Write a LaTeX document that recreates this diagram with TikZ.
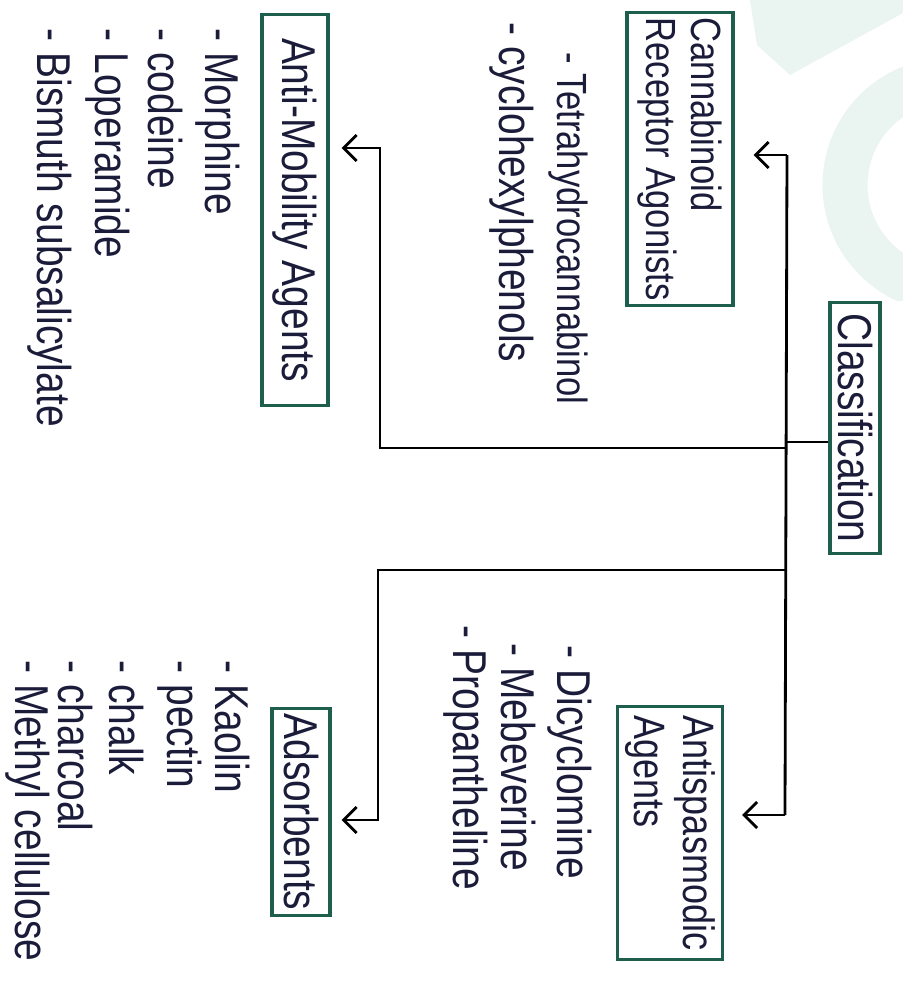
\documentclass[tikz,border=0pt]{standalone}
\usepackage{fontspec}
\setmainfont[FakeStretch=0.82]{Liberation Sans}
\usetikzlibrary{arrows.meta,calc}
\definecolor{ink}{HTML}{1B1B3A}
\definecolor{boxgreen}{HTML}{1E5E4C}
\definecolor{wmark}{HTML}{EAF4F1}

\tikzset{
  catbox/.style={draw=boxgreen, line width=0.9pt, rotate=-90, text=ink,
    align=left, inner sep=1.5pt, font=\fontsize{12}{13}\selectfont},
  bigtext/.style={font=\fontsize{13.5}{15}\selectfont},
  item/.style={rotate=-90, anchor=west, text=ink, inner sep=0pt,
    font=\fontsize{13.5}{15}\selectfont},
  link/.style={draw=black, line width=0.8pt},
  tip/.style={-{Straight Barb[length=1.3mm,width=2.6mm]}}
}

\begin{document}
\begin{tikzpicture}[x=0.01cm,y=-0.01cm]
	\useasboundingbox (0,0) rectangle (903,999);
	% faint mark of the paper
	\begin{scope}
	  \clip (700,0) rectangle (903,300);
	  \draw[wmark, line width=0.45cm] (950,185) circle (105);
	  \fill[wmark] (750,0) -- (903,0) -- (903,13) -- (790,75) -- (757,45) -- cycle;
	\end{scope}

	% categories
	\node[catbox, bigtext, minimum width=2.51cm, minimum height=0.5cm] (class) at (855,428) {Classification};
	\node[catbox, minimum width=2.82cm, minimum height=1.06cm] (canna) at (680,159) {Cannabinoid\\Receptor Agonists};
	\node[catbox, bigtext, minimum width=3.9cm, minimum height=0.66cm] (mobility) at (295,210) {Anti-Mobility Agents};
	\node[catbox, font=\fontsize{12.5}{14}\selectfont, minimum width=2.53cm, minimum height=1.05cm] (spasm) at (670,833) {Antispasmodic\\Agents};
	\node[catbox, bigtext, minimum width=2.0cm, minimum height=0.58cm] (adsorb) at (301,812) {Adsorbents};

	% drugs
	\node[item, font=\fontsize{12}{13}\selectfont] (thc) at (568,52) {- Tetrahydrocannabinol};
	\node[item] (cyclo) at (512,22) {- cyclohexylphenols};
	\node[item] (morph) at (218,28) {- Morphine};
	\node[item] (codeine) at (165,28) {- codeine};
	\node[item] (lope) at (108,28) {- Loperamide};
	\node[item] (bism) at (50,28) {- Bismuth subsalicylate};
	\node[item] (dicyc) at (570,645) {- Dicyclomine};
	\node[item] (mebev) at (518,643) {- Mebeverine};
	\node[item] (propan) at (466,625) {- Propantheline};
	\node[item] (kaolin) at (232,660) {- Kaolin};
	\node[item] (pectin) at (180,660) {- pectin};
	\node[item] (chalk) at (126,660) {- chalk};
	\node[item] (charcoal) at (75,660) {- charcoal};
	\node[item] (methyl) at (28,660) {- Methyl cellulose};

	% connectors
	\coordinate (hub) at (787,442);
	\coordinate (trunktop) at (787,155);
	\coordinate (trunkbot) at (785,815);
	\coordinate (mobjoin) at (380,448);
	\coordinate (mobturn) at (380,148);
	\coordinate (adsjoin) at (378,570);
	\coordinate (adsturn) at (378,820);

	\draw[link] (class.south |- hub) -- (hub);
	\draw[link] (trunktop) -- (trunkbot);
	\draw[link, tip, shorten >=0.19cm] (trunktop) -- (trunktop -| canna.north);
	\draw[link, tip, shorten >=0.18cm] (trunkbot) -- (trunkbot -| spasm.north);
	\draw[link, tip, shorten >=0.12cm] (mobjoin -| hub) -- (mobjoin) -- (mobturn) -- (mobturn -| mobility.north);
	\draw[link, tip, shorten >=0.1cm] (adsjoin -| hub) -- (adsjoin) -- (adsturn) -- (adsturn -| adsorb.north);
\end{tikzpicture}
\end{document}
